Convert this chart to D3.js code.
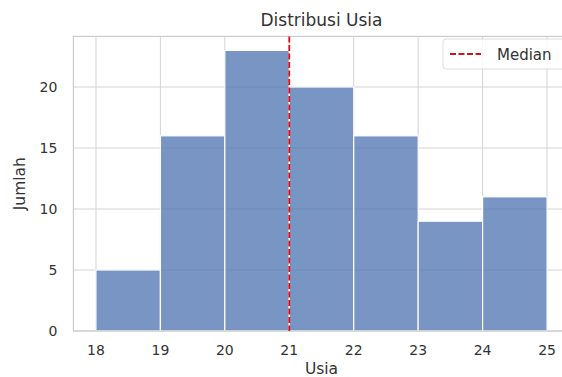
<!DOCTYPE html>
<html><head><meta charset="utf-8">
<script src="https://cdn.jsdelivr.net/npm/d3@7"></script>
<style>body{margin:0;background:#fff}svg{display:block}text{font-family:"DejaVu Sans",sans-serif;fill:#333}</style>
</head><body><svg id="c" width="562" height="377"></svg>
<script>
const binEdges = [18,19,20,21,22,23,24,25];
const counts = [5,16,23,20,16,9,11];
const xTicks = [18,19,20,21,22,23,24,25];
const yTicks = [0,5,10,15,20];
const median = 21;
const title = "Distribusi Usia", xLabel = "Usia", yLabel = "Jumlah", legendLabel = "Median";

const svg = d3.select("#c");
const L = 73.4, R = 569.6, T = 36.4, B = 331;
const x = d3.scaleLinear().domain([17.65, 25.35]).range([L, R]);
const y = d3.scaleLinear().domain([0, 24.15]).range([B, T]);
const g = svg.append("g");
// grid
g.selectAll(".gx").data(xTicks).join("line").attr("x1",d=>x(d)).attr("x2",d=>x(d)).attr("y1",T).attr("y2",B).attr("stroke","#d4d4d4").attr("stroke-width",1);
g.selectAll(".gy").data(yTicks).join("line").attr("y1",d=>y(d)).attr("y2",d=>y(d)).attr("x1",L).attr("x2",R).attr("stroke","#d4d4d4").attr("stroke-width",1);
// bars
g.selectAll(".bar").data(counts).join("rect")
 .attr("x",(d,i)=>x(binEdges[i])).attr("width",(d,i)=>x(binEdges[i+1])-x(binEdges[i]))
 .attr("y",d=>y(d)).attr("height",d=>B-y(d))
 .attr("fill","#4C72B0").attr("fill-opacity",0.75).attr("stroke","#fff").attr("stroke-width",1.2);
// spines
g.append("rect").attr("x",L).attr("y",T).attr("width",R-L).attr("height",B-T).attr("fill","none").attr("stroke","#cccccc").attr("stroke-width",1.2);
// median
g.append("line").attr("x1",x(median)).attr("x2",x(median)).attr("y1",T).attr("y2",B).attr("stroke","#d9101c").attr("stroke-width",1.8).attr("stroke-dasharray","6,2.5");
// tick labels
g.selectAll(".xt").data(xTicks).join("text").attr("x",d=>x(d)).attr("y",B+24).attr("text-anchor","middle").attr("font-size","14px").text(d=>d);
g.selectAll(".yt").data(yTicks).join("text").attr("x",L-16).attr("y",d=>y(d)+5).attr("text-anchor","end").attr("font-size","14px").text(d=>d);
// labels
svg.append("text").attr("x",(L+R)/2).attr("y",26).attr("text-anchor","middle").attr("font-size","17px").text(title);
svg.append("text").attr("x",(L+R)/2).attr("y",374).attr("text-anchor","middle").attr("font-size","15.5px").text(xLabel);
svg.append("text").attr("transform",`translate(25,${(T+B)/2}) rotate(-90)`).attr("text-anchor","middle").attr("font-size","15.5px").text(yLabel);
// legend
const lg = svg.append("g").attr("transform","translate(443,39)");
lg.append("rect").attr("width",130).attr("height",30).attr("rx",3).attr("fill","#fff").attr("fill-opacity",0.8).attr("stroke","#dddddd");
lg.append("line").attr("x1",7).attr("x2",38).attr("y1",15).attr("y2",15).attr("stroke","#d9101c").attr("stroke-width",1.8).attr("stroke-dasharray","6,2.5");
lg.append("text").attr("x",54).attr("y",21).attr("font-size","15px").text(legendLabel);
</script></body></html>
